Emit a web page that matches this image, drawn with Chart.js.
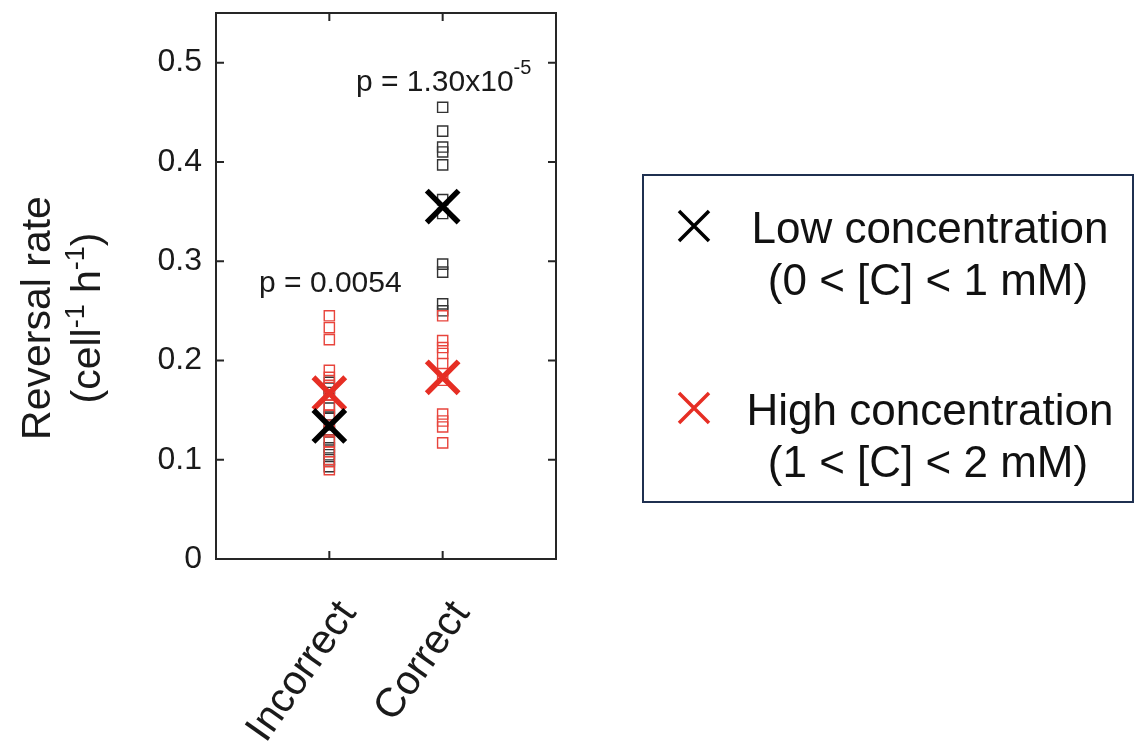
<!DOCTYPE html>
<html><head><meta charset="utf-8">
<script src="https://cdn.jsdelivr.net/npm/chart.js@4.4.1/dist/chart.umd.min.js"></script>
<style>html,body{margin:0;padding:0;background:#fff;overflow:hidden}#wrap{width:1139px;height:748px;position:relative}</style>
</head><body><div id="wrap"><canvas id="c"></canvas></div>
<script>
// ---- data ----
const categories = ['Incorrect', 'Correct'];
const yTickValues = [0, 0.1, 0.2, 0.3, 0.4, 0.5];
const yTickLabels = ['0', '0.1', '0.2', '0.3', '0.4', '0.5'];
const lowIncorrect  = [0.178, 0.172, 0.165, 0.152, 0.143, 0.135, 0.128, 0.120, 0.112, 0.105, 0.100, 0.093];
const lowCorrect    = [0.455, 0.431, 0.415, 0.410, 0.397, 0.362, 0.348, 0.297, 0.289, 0.257, 0.250];
const highIncorrect = [0.245, 0.233, 0.221, 0.190, 0.183, 0.175, 0.165, 0.155, 0.145, 0.130, 0.118, 0.108, 0.098, 0.090];
const highCorrect   = [0.245, 0.220, 0.213, 0.207, 0.197, 0.180, 0.146, 0.139, 0.133, 0.117];
const lowMeans  = [0.134, 0.355];
const highMeans = [0.167, 0.183];
const pTexts = [['p = 0.0054', ''], ['p = 1.30x10', '-5']];
const legendLabels = [['Low concentration', '(0 < [C] < 1 mM)'], ['High concentration', '(1 < [C] < 2 mM)']];
const yTitleLine1 = 'Reversal rate';
const yTitleLine2 = [['(cell', false], ['-1', true], [' h', false], ['-1', true], [')', false]];

const BLACK = '#000000', BLACK_SQ = '#333333', RED = '#e62e24', RED_SQ = '#e8443c';
const FONT = '"Liberation Sans", Arial, Helvetica, sans-serif';
const PLOT_TOP = 13;

function pts(vals, xi) { return vals.map(v => ({ x: xi, y: v })); }
function squares(label, vals, color, ord) {
  return { label, data: [...pts(vals[0], 1), ...pts(vals[1], 2)], pointStyle: 'rect', pointRadius: 7.2,
    borderColor: color, backgroundColor: 'rgba(0,0,0,0)', pointBorderWidth: 1.4, showLine: false, order: ord };
}
function means(label, vals, color, ord) {
  return { label, data: vals.map((v, i) => ({ x: i + 1, y: v })), pointStyle: 'crossRot', pointRadius: 22.5,
    borderColor: color, backgroundColor: color, pointBorderWidth: 5.5, showLine: false, order: ord };
}

const overlay = {
  id: 'overlay',
  afterLayout(chart) {
    const a = chart.chartArea, y = chart.scales.y;
    a.top = PLOT_TOP; a.height = a.bottom - a.top;
    y.top = PLOT_TOP; y.height = y.bottom - y.top;
    y.configure();
  },
  afterDraw(chart) {
    const { ctx, chartArea: a, scales: { x, y } } = chart;
    ctx.save();
    ctx.strokeStyle = '#262626'; ctx.lineWidth = 2;
    ctx.strokeRect(a.left, a.top, a.right - a.left, a.bottom - a.top);
    ctx.beginPath();
    x.ticks.forEach(t => { const px = x.getPixelForValue(t.value);
      ctx.moveTo(px, a.bottom); ctx.lineTo(px, a.bottom - 8); ctx.moveTo(px, a.top); ctx.lineTo(px, a.top + 8); });
    y.ticks.forEach(t => { if (t.value === 0) return; const py = y.getPixelForValue(t.value);
      ctx.moveTo(a.left, py); ctx.lineTo(a.left + 8, py); ctx.moveTo(a.right, py); ctx.lineTo(a.right - 8, py); });
    ctx.stroke();

    // x category labels, rotated
    ctx.fillStyle = '#1a1a1a';
    ctx.font = '41px ' + FONT;
    const rot = 55 * Math.PI / 180;
    categories.forEach((c, i) => {
      const px = x.getPixelForValue(i + 1);
      ctx.save(); ctx.translate(px + 28, a.bottom + 54); ctx.rotate(-rot);
      ctx.textAlign = 'right'; ctx.textBaseline = 'alphabetic'; ctx.fillText(c, 0, 0); ctx.restore();
    });

    // y title
    const cy = 318;
    ctx.save(); ctx.translate(50, cy); ctx.rotate(-Math.PI / 2);
    ctx.font = '41px ' + FONT; ctx.textAlign = 'center'; ctx.textBaseline = 'alphabetic';
    ctx.fillText(yTitleLine1, 0, 0); ctx.restore();
    ctx.save(); ctx.translate(100, cy); ctx.rotate(-Math.PI / 2);
    ctx.textAlign = 'left'; ctx.textBaseline = 'alphabetic';
    let tot = 0;
    yTitleLine2.forEach(([t, s]) => { ctx.font = (s ? '27px ' : '41px ') + FONT; tot += ctx.measureText(t).width; });
    let cx = -tot / 2;
    yTitleLine2.forEach(([t, s]) => { ctx.font = (s ? '27px ' : '41px ') + FONT; ctx.fillText(t, cx, s ? -16 : 0); cx += ctx.measureText(t).width; });
    ctx.restore();

    // p-values
    const pY = [0.269, 0.471];
    pTexts.forEach(([base, sup], i) => {
      const px = x.getPixelForValue(i + 1) + 1, py = y.getPixelForValue(pY[i]);
      ctx.font = '30px ' + FONT; const w1 = ctx.measureText(base).width;
      ctx.font = '20px ' + FONT; const w2 = sup ? ctx.measureText(sup).width : 0;
      const sx = px - (w1 + w2) / 2;
      ctx.textAlign = 'left'; ctx.textBaseline = 'alphabetic';
      ctx.font = '30px ' + FONT; ctx.fillText(base, sx, py);
      if (sup) { ctx.font = '20px ' + FONT; ctx.fillText(sup, sx + w1, py - 17); }
    });

    // legend
    ctx.strokeStyle = '#1f3050'; ctx.lineWidth = 2;
    ctx.strokeRect(643, 175, 490, 327);
    const lc = [BLACK, RED];
    const ly = [226, 408];
    legendLabels.forEach((lines, i) => {
      const mx = 694, my = ly[i], h = 15;
      ctx.strokeStyle = lc[i]; ctx.lineWidth = 3.5; ctx.lineCap = 'butt';
      ctx.beginPath(); ctx.moveTo(mx - h, my - h); ctx.lineTo(mx + h, my + h); ctx.moveTo(mx - h, my + h); ctx.lineTo(mx + h, my - h); ctx.stroke();
      ctx.fillStyle = '#111'; ctx.font = '44px ' + FONT; ctx.textAlign = 'center'; ctx.textBaseline = 'alphabetic';
      ctx.fillText(lines[0], 930, my + 17);
      ctx.fillText(lines[1], 928, my + 69);
    });
    ctx.restore();
  }
};

new Chart(document.getElementById('c'), {
  type: 'scatter',
  data: { datasets: [
    means('Low concentration', lowMeans, BLACK, 0),
    means('High concentration', highMeans, RED, 1),
    squares('High squares', [highIncorrect, highCorrect], RED_SQ, 2),
    squares('Low squares', [lowIncorrect, lowCorrect], BLACK_SQ, 3)
  ]},
  options: {
    responsive: true, maintainAspectRatio: false, animation: false, devicePixelRatio: 1,
    layout: { padding: { left: 0, top: 13, right: 583, bottom: 0 } },
    plugins: { legend: { display: false }, tooltip: { enabled: false } },
    scales: {
      x: { type: 'linear', min: 0, max: 3,
        afterBuildTicks: s => { s.ticks = [1, 2].map(v => ({ value: v })); },
        ticks: { display: false }, grid: { display: false, drawTicks: false }, border: { display: false },
        afterFit: s => { s.height = 189; s.paddingLeft = 0; s.paddingRight = 0; } },
      y: { type: 'linear', min: 0, max: 0.55,
        afterBuildTicks: s => { s.ticks = yTickValues.map(v => ({ value: v })); },
        ticks: { padding: 14, color: '#1a1a1a', font: { family: FONT, size: 32 },
          callback: (v) => { const i = yTickValues.findIndex(t => Math.abs(t - v) < 1e-9); return i >= 0 ? yTickLabels[i] : ''; } },
        grid: { display: false, drawTicks: false }, border: { display: false },
        afterFit: s => { s.width = 216; s.paddingTop = 0; s.paddingBottom = 0; } }
    }
  },
  plugins: [overlay]
});
</script></body></html>
